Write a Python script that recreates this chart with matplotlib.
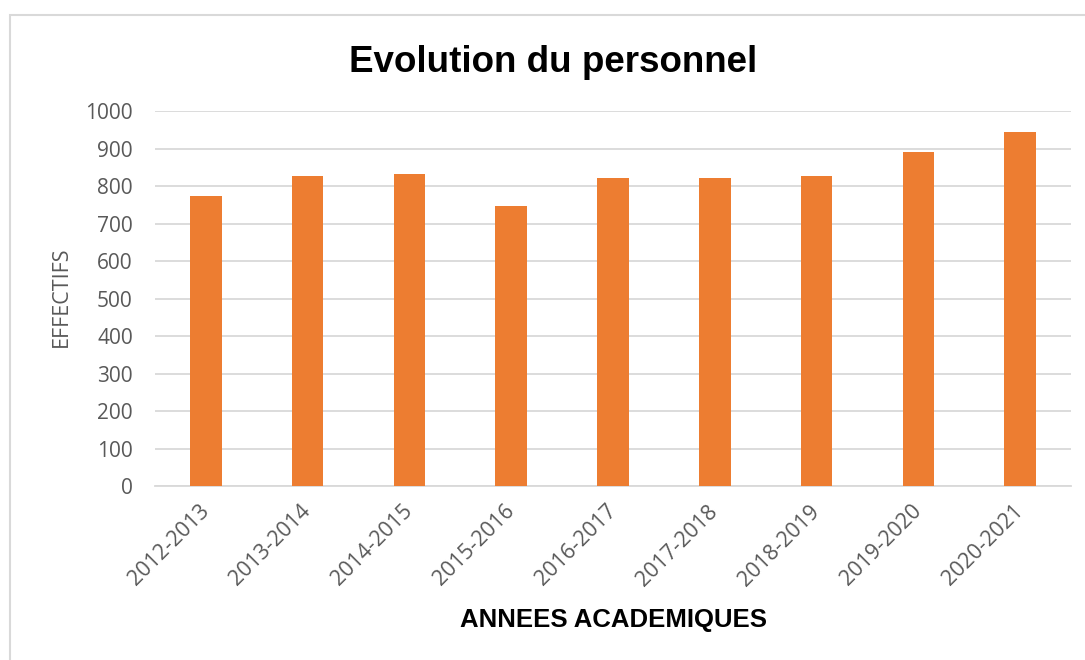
import numpy as np
import matplotlib.pyplot as plt
from matplotlib.patches import Rectangle

# Data
annees = ["2012-2013", "2013-2014", "2014-2015", "2015-2016", "2016-2017",
          "2017-2018", "2018-2019", "2019-2020", "2020-2021"]
effectifs = [774, 827, 832, 746, 821, 823, 826, 892, 946]

bar_color = "#ED7D31"
grid_color = "#D9D9D9"
text_color = "#595959"

fig = plt.figure(figsize=(10.85, 6.6), dpi=100)
ax = fig.add_axes([155/1085, 1 - 486/660, (1071 - 155)/1085, (486 - 111.3)/660])

x = np.arange(len(annees))
ax.bar(x, effectifs, width=0.31, color=bar_color, zorder=3)

ax.set_xlim(-0.5, len(annees) - 0.5)
ax.set_ylim(0, 1000)
ax.set_yticks(np.arange(0, 1001, 100))
ax.yaxis.grid(True, color=grid_color, linewidth=1.3, zorder=0)
ax.set_axisbelow(True)

for s in ["top", "right", "left"]:
    ax.spines[s].set_visible(False)
ax.spines["bottom"].set_color(grid_color)
ax.spines["bottom"].set_linewidth(1.3)

ax.tick_params(axis="both", length=0, labelcolor=text_color)
ax.tick_params(axis="y", pad=16, labelsize=15)
ax.set_yticklabels([str(v) for v in range(0, 1001, 100)], fontfamily="Open Sans")
ax.set_xticks(x)
ax.set_xticklabels(annees, rotation=45, ha="right", va="center",
                   rotation_mode="anchor", fontfamily="Open Sans", fontsize=15.5)
ax.tick_params(axis="x", pad=16)

fig.text(553/1085, 1 - 71.7/660, "Evolution du personnel", ha="center", va="baseline",
         fontfamily="Liberation Sans", fontweight="bold", fontsize=26.5, color="black")
fig.text(613/1085, 1 - 627.3/660, "ANNEES ACADEMIQUES", ha="center", va="baseline",
         fontfamily="Liberation Sans", fontweight="bold", fontsize=18.5, color="black")
fig.text(61/1085, 1 - 297/660, "EFFECTIFS", ha="center", va="center", rotation=90,
         fontfamily="Open Sans", fontsize=15.5, color=text_color)

# chart border (cropped at right and bottom)
fig.patches.append(Rectangle((10/1085, -0.1), 1.2, 1 - 15/660 + 0.1,
                             transform=fig.transFigure, fill=False,
                             edgecolor=grid_color, linewidth=1.5))

fig.savefig("out.png", dpi=100)
